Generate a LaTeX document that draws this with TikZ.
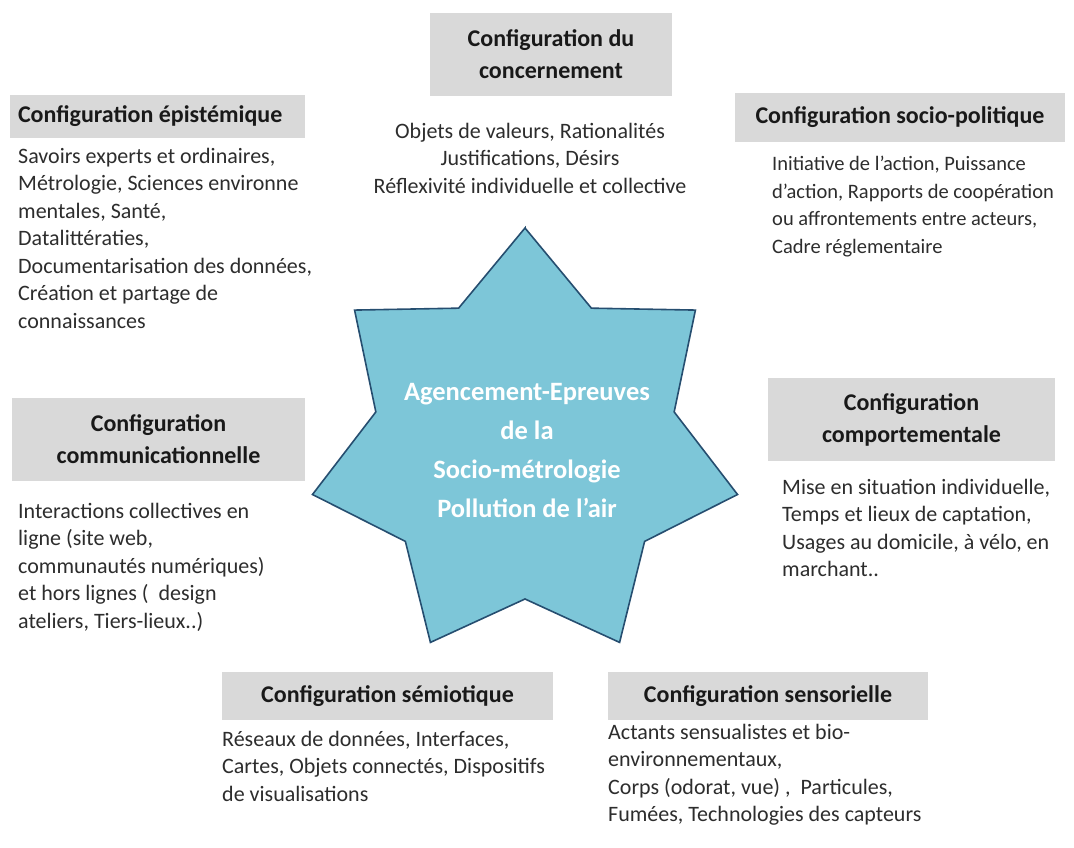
\documentclass[tikz,border=0pt]{standalone}
\usepackage{fontspec}
\setmainfont{Carlito}
\definecolor{headgray}{RGB}{217,217,217}
\definecolor{starfill}{RGB}{125,198,216}
\definecolor{starline}{RGB}{38,78,112}
\definecolor{bodytext}{RGB}{45,45,45}
\tikzset{
  confhead/.style={fill=headgray, inner sep=0pt, align=center, text=black!90,
    font=\fontsize{24}{32}\selectfont\bfseries},
  confbody/.style={inner sep=0pt, anchor=north west, align=left, text=bodytext,
    font=\fontsize{22}{27.5}\selectfont, execute at begin node=\strut},
}

\begin{document}
\begin{tikzpicture}[x=1pt,y=-1pt]
  \useasboundingbox[fill=white] (0,0) rectangle (1074,848);

  % etoile a sept branches (axe y inverse)
  \draw[fill=starfill, draw=starline, line width=1.6pt, line join=miter, shift={(525,446)}]
    (-90:218) \foreach \k in {0,...,6} { -- ({-115.714-\k*51.4286}:153) -- ({-141.4286-\k*51.4286}:218) } -- cycle;
  \node[text=white, align=center, inner sep=0pt,
        font=\fontsize{26.5}{39}\selectfont\bfseries] (agencement) at (527,451)
        {Agencement-Epreuves\\de la\\Socio-métrologie\\Pollution de l’air};

  % titres
  \node[confhead, minimum width=242pt, minimum height=83pt] (concern) at (551,54.5)
        {Configuration du\\concernement};
  \node[confhead, text width=279pt, inner xsep=8pt, minimum height=43pt, align=flush left] (episte) at (157.5,116.5)
        {Configuration épistémique};
  \node[confhead, minimum width=330pt, minimum height=49pt] (sociopol) at (900,117.5)
        {Configuration socio-politique};
  \node[confhead, minimum width=293pt, minimum height=83pt] (commun) at (158.5,439.5)
        {Configuration\\communicationnelle};
  \node[confhead, minimum width=287pt, minimum height=83pt] (comport) at (911.5,419.5)
        {Configuration\\comportementale};
  \node[confhead, minimum width=331pt, minimum height=48pt] (semio) at (387.5,696)
        {Configuration sémiotique};
  \node[confhead, minimum width=320pt, minimum height=48pt] (sensor) at (768,696)
        {Configuration sensorielle};

  % contenus
  \node[confbody, anchor=north, align=center] (concern-txt) at (530,123)
        {Objets de valeurs, Rationalités\\Justifications, Désirs\\Réflexivité individuelle et collective};
  \node[confbody] (episte-txt) at (18,148)
        {Savoirs experts et ordinaires,\\Métrologie, Sciences environne\\mentales, Santé,\\Datalittératies,\\Documentarisation des données,\\Création et partage de\\connaissances};
  \node[confbody, font=\fontsize{20.5}{27.5}\selectfont] (sociopol-txt) at (772,156)
        {Initiative de l’action, Puissance\\d’action, Rapports de coopération\\ou affrontements entre acteurs,\\Cadre réglementaire};
  \node[confbody] (commun-txt) at (18,503)
        {Interactions collectives en\\ligne (site web,\\communautés numériques)\\et hors lignes (~~design\\ateliers, Tiers-lieux..)};
  \node[confbody] (comport-txt) at (782,479)
        {Mise en situation individuelle,\\Temps et lieux de captation,\\Usages au domicile, à vélo, en\\marchant..};
  \node[confbody] (semio-txt) at (222,731)
        {Réseaux de données, Interfaces,\\Cartes, Objets connectés, Dispositifs\\de visualisations};
  \node[confbody] (sensor-txt) at (608,724)
        {Actants sensualistes et bio-\\environnementaux,\\Corps (odorat, vue)~, ~Particules,\\Fumées, Technologies des capteurs};
\end{tikzpicture}
\end{document}
